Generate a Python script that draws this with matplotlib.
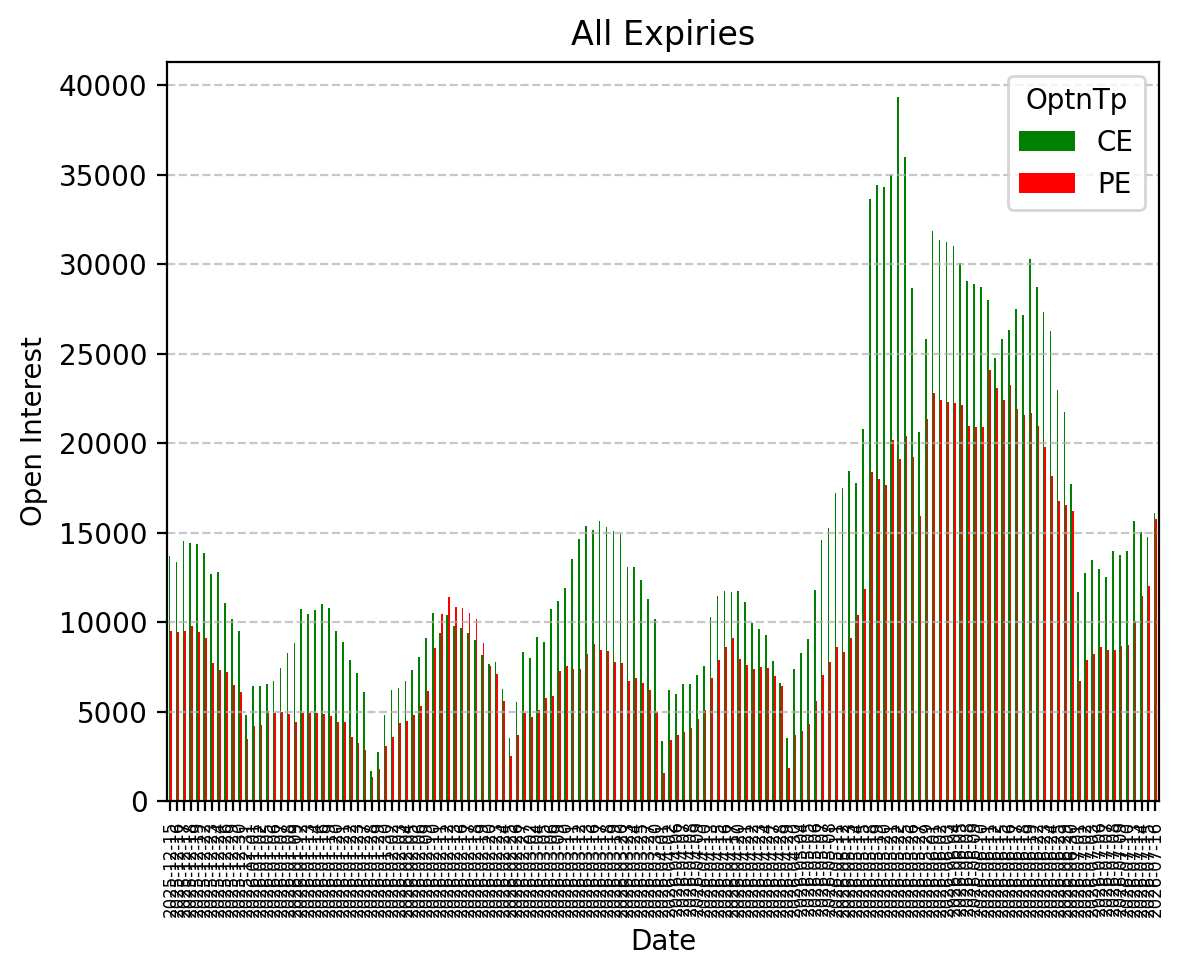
import numpy as np
import pandas as pd
import matplotlib
matplotlib.use("Agg")
import matplotlib.pyplot as plt

# trading days, exchange holidays removed
holidays = ["2025-12-25", "2026-01-15", "2026-01-26", "2026-03-03", "2026-03-26",
            "2026-03-31", "2026-04-03", "2026-04-14", "2026-05-01", "2026-05-28",
            "2026-06-26"]
days = pd.bdate_range("2025-12-15", "2026-07-16")
days = days[~days.isin(pd.to_datetime(holidays))]
dates = [d.strftime("%Y-%m-%d") for d in days]

ce = [13700, 13370, 14550, 14430, 14380, 13870, 12700, 12810, 11080, 10180,
      9510, 4810, 6430, 6430, 6550, 6710, 7440, 8280, 8840, 10740,
      10460, 10690, 11020, 10800, 9510, 8900, 7890, 7160, 6100, 1680,
      2740, 4810, 6210, 6320, 6710, 7330, 8060, 9120, 10520, 9400,
      10410, 9790, 9680, 9400, 9010, 8170, 7660, 7780, 6270, 3520,
      5540, 8340, 8000, 9170, 8900, 10740, 11190, 11920, 13540, 14660,
      15380, 15160, 15660, 15330, 15100, 14940, 13090, 13090, 12360, 11300,
      10180, 3360, 6210, 5990, 6550, 6550, 7050, 7550, 10290, 11470,
      11750, 11690, 11750, 11130, 9960, 9620, 9290, 7830, 6600, 3520,
      7380, 8280, 9060, 11800, 14610, 15240, 17240, 17520, 18460, 17780,
      20800, 33650, 34430, 34320, 34970, 39340, 36010, 28680, 20640, 25850,
      31880, 31360, 31250, 31020, 30080, 29070, 28910, 28730, 28000, 24750,
      25850, 26340, 27510, 27170, 30320, 28730, 27350, 26290, 22980, 21760,
      17730, 11700, 12770, 13490, 12950, 12530, 13990, 13730, 13990, 15630,
      15030, 14770, 16120]

pe = [9510, 9450, 9510, 9790, 9450, 9120, 7720, 7330, 7220, 6490,
      6100, 3470, 4200, 4250, 5030, 4920, 4980, 4870, 4420, 4920,
      4920, 4920, 4870, 4760, 4420, 4420, 3580, 3240, 2850, 1340,
      1790, 3080, 3580, 4360, 4480, 4810, 5310, 6150, 8560, 10460,
      11410, 10850, 10800, 10520, 10180, 8840, 7550, 7100, 5590, 2520,
      3690, 4920, 4700, 5090, 5760, 5870, 7270, 7550, 7380, 7380,
      8220, 8780, 8450, 8390, 7780, 7720, 6710, 6880, 6600, 6210,
      4980, 1570, 3410, 3690, 3860, 4080, 4590, 5090, 6880, 7890,
      8620, 9120, 7940, 7610, 7380, 7500, 7440, 6990, 6430, 1850,
      3690, 3920, 4310, 5590, 7070, 7750, 8630, 8350, 9130, 10400,
      11830, 18410, 17990, 17680, 20150, 19140, 20410, 19240, 15940, 21370,
      22830, 22390, 22310, 22260, 22150, 20980, 20900, 20900, 24100, 23090,
      22440, 23270, 21920, 21580, 21680, 20980, 19760, 18170, 16770, 16560,
      16220, 6730, 7900, 8240, 8580, 8450, 8420, 8680, 8740, 10060,
      11470, 11990, 15760]

df = pd.DataFrame({"CE": ce, "PE": pe}, index=dates)
df.columns.name = "OptnTp"
df.index.name = "Date"

fig = plt.figure(figsize=(5.92, 4.88), dpi=200)
ax = fig.add_axes([0.141, 0.1793, 0.8378, 0.7572])
df.plot(kind="bar", ax=ax, color=["green", "red"])

ax.set_title("All Expiries")
ax.set_xlabel("Date")
ax.set_ylabel("Open Interest")
ax.tick_params(axis="x", labelsize=6, labelrotation=90)
ax.grid(axis="y", linestyle="--", alpha=0.7)
ax.legend(title="OptnTp", loc="upper right")

fig.savefig("out.png", dpi=200)
